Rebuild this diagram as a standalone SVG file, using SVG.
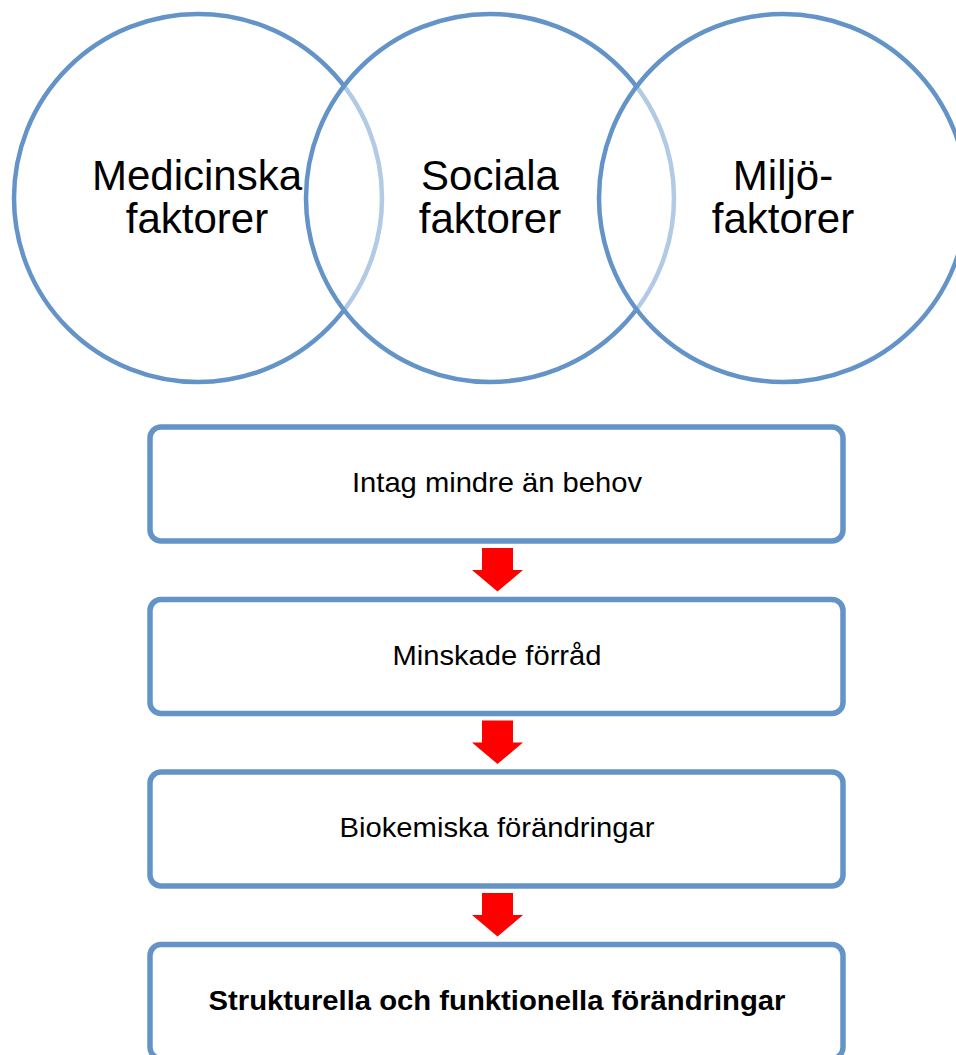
<svg xmlns="http://www.w3.org/2000/svg" width="956" height="1055" viewBox="0 0 956 1055">
<style>
.circ{stroke:#6494C7;stroke-width:4.5;fill:#ffffff;fill-opacity:0.5}
.big{font-family:"Liberation Sans",Arial,sans-serif;font-size:42px;fill:#000;text-anchor:middle}
.box{stroke:#6494C7;stroke-width:5.5;fill:#ffffff}
.lbl{font-family:"Liberation Sans",Arial,sans-serif;font-size:28px;fill:#000;text-anchor:middle}
.arrow{fill:#FF0000}
</style>
<defs>
<polygon id="arr" points="482,548 513,548 513,570 523,570 497.5,591.5 472,570 482,570"/>
</defs>
<rect width="956" height="1055" fill="#ffffff"/>
<g id="medicinska">
<circle class="circ" cx="198" cy="198" r="184" fill-opacity="1"/>
<text class="big" x="197" y="190">Medicinska</text>
<text class="big" x="197" y="233">faktorer</text>
</g>
<g id="sociala">
<circle class="circ" cx="490" cy="198" r="184"/>
<text class="big" x="490" y="190">Sociala</text>
<text class="big" x="490" y="233">faktorer</text>
</g>
<g id="miljo">
<circle class="circ" cx="783" cy="198" r="184"/>
<text class="big" x="783" y="190">Miljö-</text>
<text class="big" x="783" y="233">faktorer</text>
</g>
<g id="connectors">
<use href="#arr" class="arrow"/>
<use href="#arr" class="arrow" transform="translate(0,172.5)"/>
<use href="#arr" class="arrow" transform="translate(0,345)"/>
</g>
<g id="intag">
<rect class="box" x="150" y="427" width="693" height="114" rx="11"/>
<text class="lbl" x="497" y="492" textLength="290" lengthAdjust="spacingAndGlyphs">Intag mindre än behov</text>
</g>
<g id="minskade">
<rect class="box" x="150" y="599.5" width="693" height="114" rx="11"/>
<text class="lbl" x="497" y="664.5" textLength="209" lengthAdjust="spacingAndGlyphs">Minskade förråd</text>
</g>
<g id="biokemiska">
<rect class="box" x="150" y="772" width="693" height="114" rx="11"/>
<text class="lbl" x="497" y="837" textLength="315" lengthAdjust="spacingAndGlyphs">Biokemiska förändringar</text>
</g>
<g id="strukturella">
<rect class="box" x="150" y="944.5" width="693" height="114" rx="11"/>
<text class="lbl" x="497" y="1009.5" font-weight="bold" textLength="577" lengthAdjust="spacingAndGlyphs">Strukturella och funktionella förändringar</text>
</g>
</svg>
